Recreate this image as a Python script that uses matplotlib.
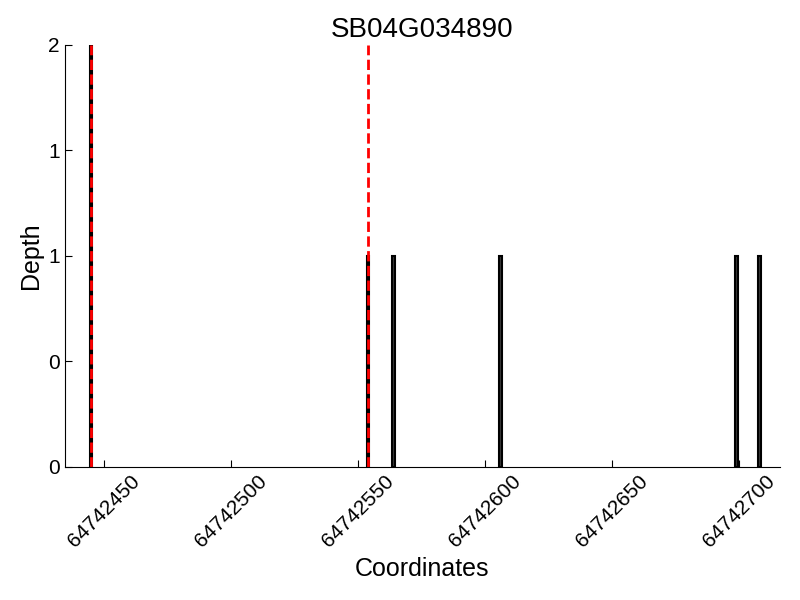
import matplotlib
matplotlib.use('Agg')
import matplotlib.pyplot as plt
from matplotlib.ticker import FormatStrFormatter

plt.rcParams['font.family'] = ['Liberation Sans', 'DejaVu Sans']

# read depth per coordinate
coords = [64742445, 64742554, 64742564, 64742606, 64742699, 64742708]
depth = [2, 1, 1, 1, 1, 1]
# marked positions (red dashed)
marks = [64742445, 64742554]
gene = 'SB04G034890'

fig = plt.figure(figsize=(8, 6), dpi=100)
ax = fig.add_axes([0.081, 0.222, 0.894, 0.703])

ax.bar(coords, depth, width=1, color='#3a3a3a', edgecolor='black', linewidth=1.5)
for m in marks:
    ax.axvline(m, ymin=0, ymax=1, color='red', linestyle='--', linewidth=2)

ax.set_xlim(64742434.6, 64742716.1)
ax.set_ylim(0, 2)
ax.set_yticks([0, 0.5, 1, 1.5, 2])
ax.yaxis.set_major_formatter(FormatStrFormatter('%d'))
ax.set_xticks([64742450, 64742500, 64742550, 64742600, 64742650, 64742700])
ax.xaxis.set_major_formatter(FormatStrFormatter('%d'))
plt.setp(ax.get_xticklabels(), rotation=45, ha='center')

ax.spines['top'].set_visible(False)
ax.spines['right'].set_visible(False)
ax.tick_params(direction='in', labelsize=15, length=5)

ax.set_xlabel('Coordinates', fontsize=18)
ax.set_ylabel('Depth', fontsize=18)
ax.set_title(gene, fontsize=20)

fig.savefig('out.png')
